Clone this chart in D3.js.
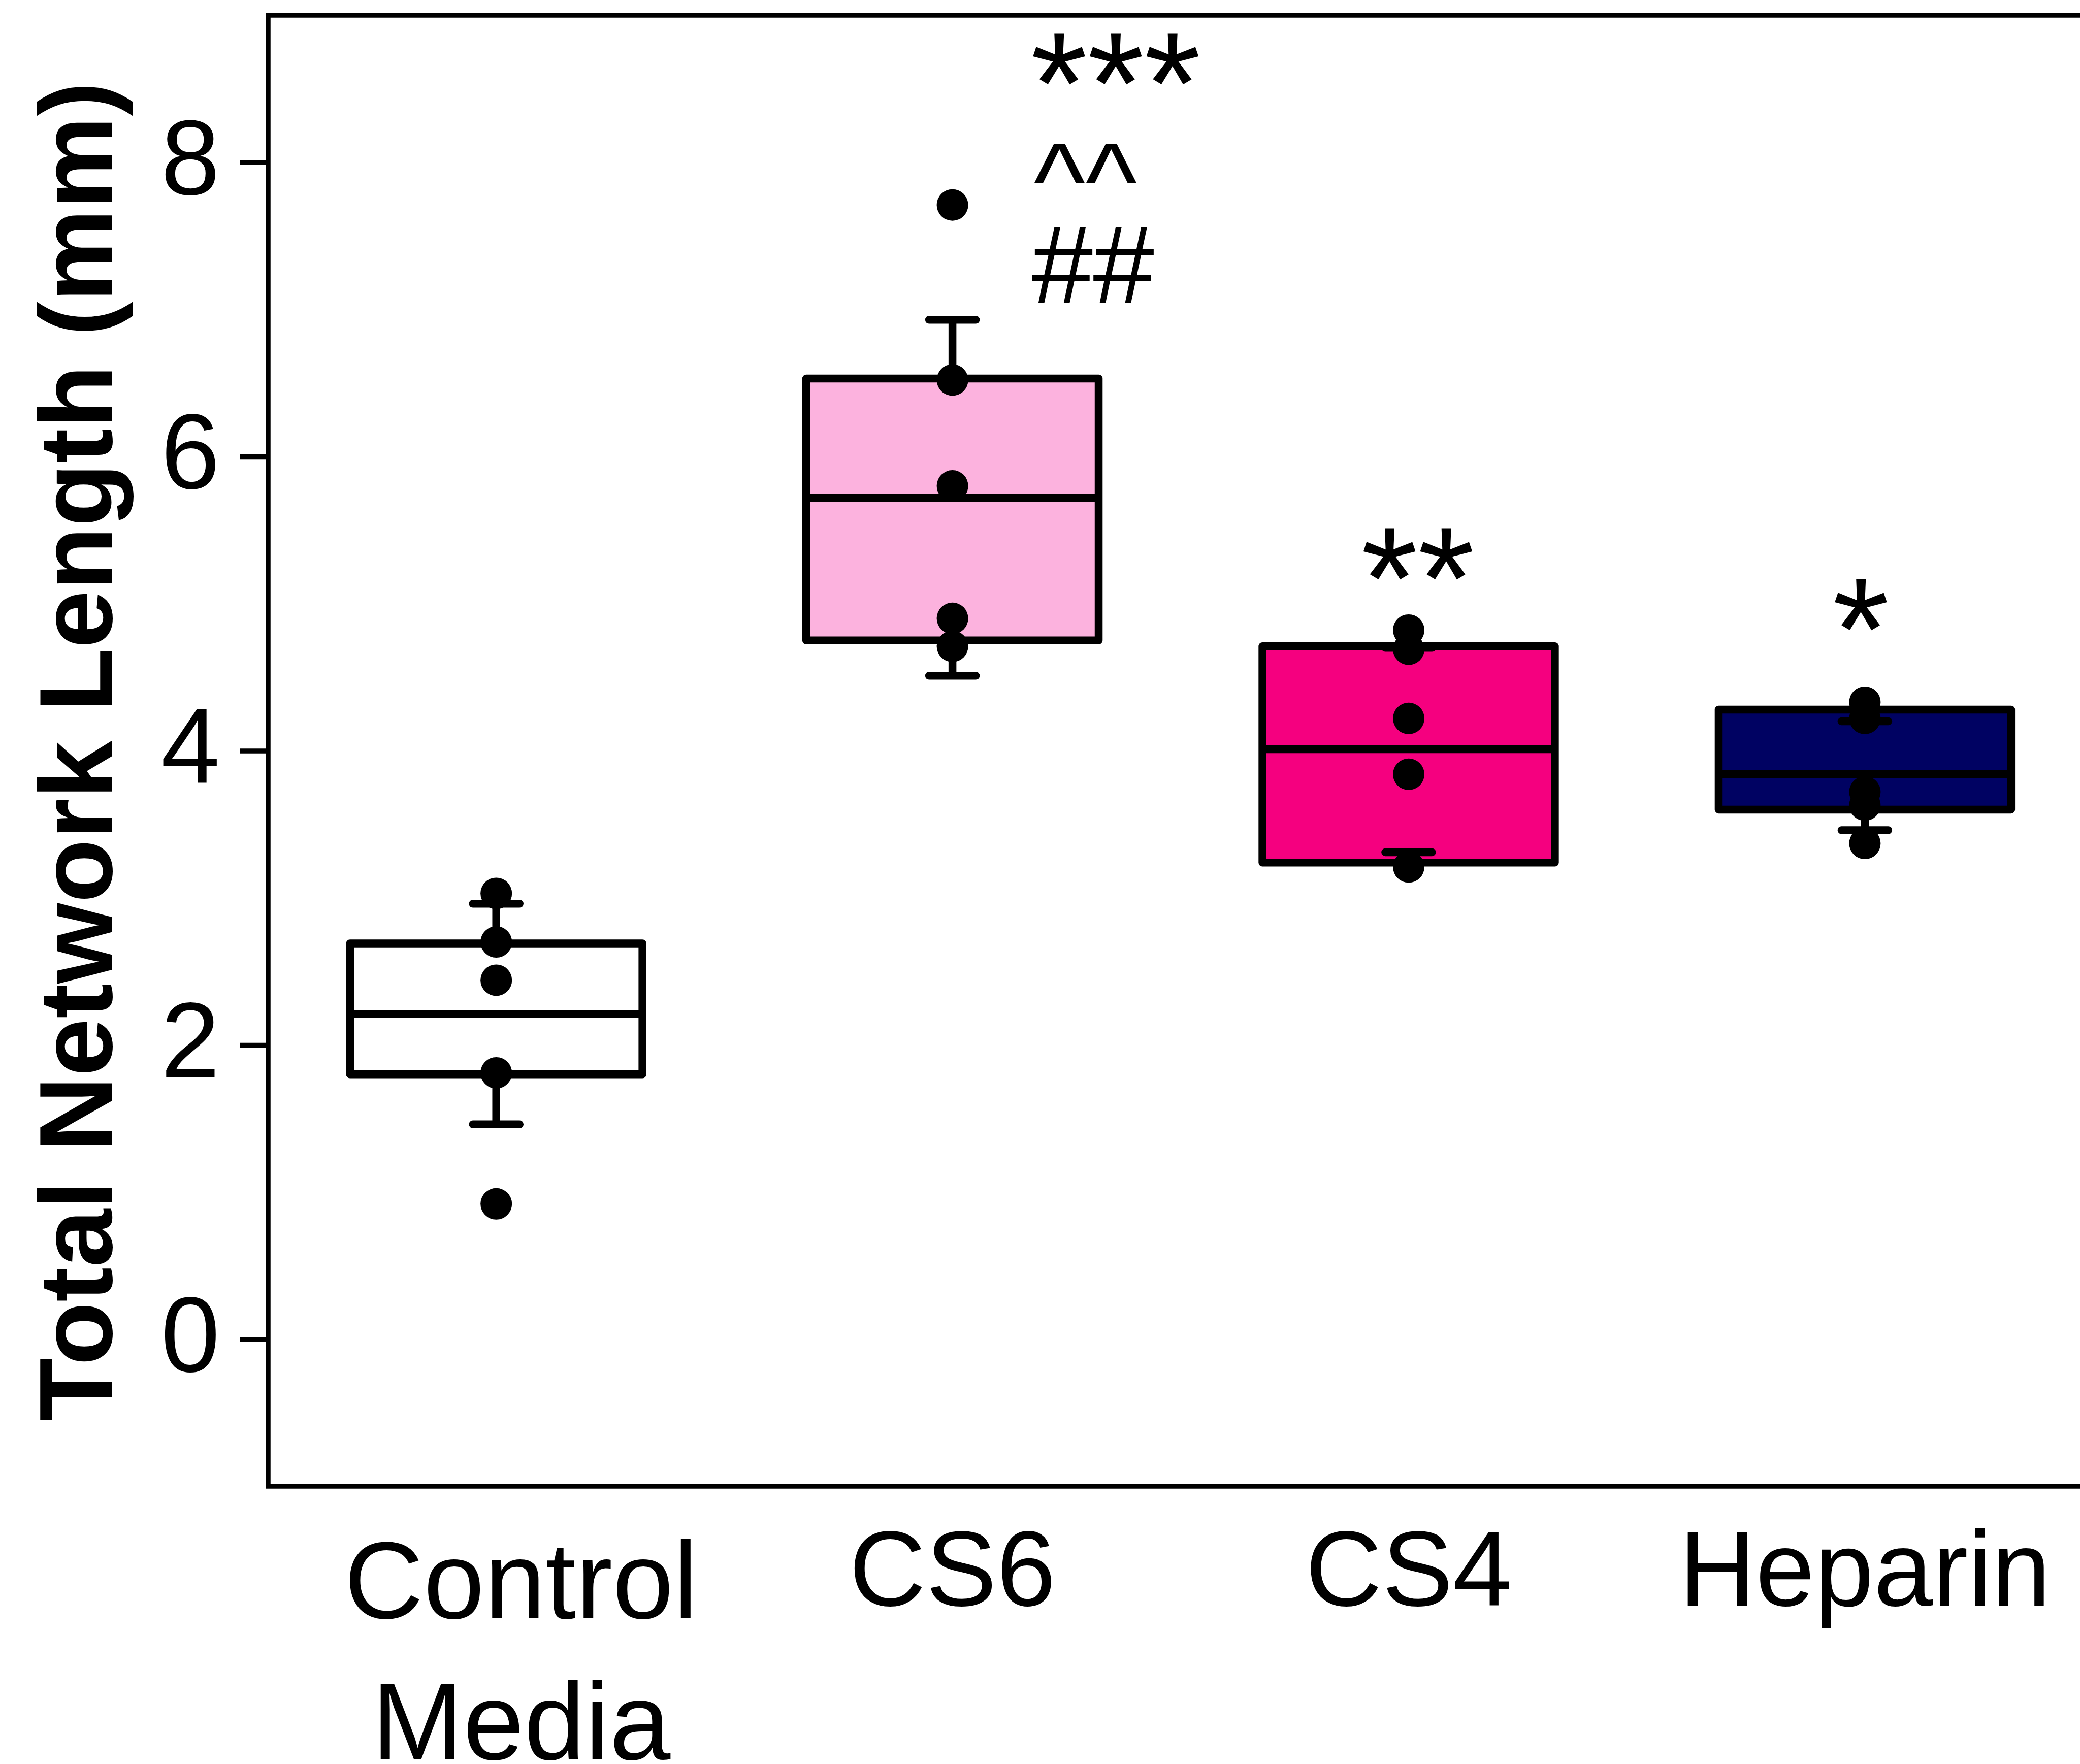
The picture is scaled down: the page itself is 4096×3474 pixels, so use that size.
<!DOCTYPE html>
<html>
<head>
<meta charset="utf-8">
<script src="https://cdn.jsdelivr.net/npm/d3@7/dist/d3.min.js"></script>
<style>
  html, body { margin: 0; padding: 0; background: #ffffff; }
  svg { display: block; }
  text { font-family: "Liberation Sans", Arial, Helvetica, sans-serif; fill: #000; }
</style>
</head>
<body>
<svg id="chart" width="4096" height="3474"></svg>
<script>
// ---------------- data ----------------
const categories = ["Control Media", "CS6", "CS4", "Heparin"];
const categoryLines = [["Control", "Media"], ["CS6"], ["CS4"], ["Heparin"]];

const q1          = [1.80, 4.75, 3.24, 3.60];
const median      = [2.21, 5.72, 4.01, 3.84];
const q3          = [2.69, 6.53, 4.71, 4.28];
const whiskerLow  = [1.46, 4.51, 3.31, 3.46];
const whiskerHigh = [2.96, 6.93, 4.70, 4.20];

const pointsControl = [3.03, 2.70, 2.44, 1.81, 0.92];
const pointsCS6     = [7.71, 6.52, 5.80, 4.90, 4.71];
const pointsCS4     = [4.82, 4.69, 4.22, 3.84, 3.21];
const pointsHeparin = [4.33, 4.22, 3.72, 3.63, 3.37];
const points = [pointsControl, pointsCS6, pointsCS4, pointsHeparin];

const yTicks = [0, 2, 4, 6, 8];
const yLabel = "Total Network Length (mm)";

const sigCS6 = ["***", "^^", "##"];
const sigCS4 = ["**"];
const sigHeparin = ["*"];

// ---------------- drawing ----------------
(function () {
const fills = ["#ffffff", "#fcb2de", "#f5007f", "#000262"];

const svg = d3.select("#chart");
const pl = 528, pr = 4121.6, pt = 30, pb = 2927;

const x = d3.scaleBand()
  .domain(categories)
  .range([pl, pr])
  .paddingInner(0.359)
  .paddingOuter(0.1795);

const y = d3.scaleLinear().domain([-1, 9]).range([pb, pt]);

const boxes = categories.map((c, i) => ({
  cat: c, q1: q1[i], med: median[i], q3: q3[i],
  lo: whiskerLow[i], hi: whiskerHigh[i], fill: fills[i], pts: points[i]
}));

const bw = x.bandwidth();
const capHalf = 46;
const sw = 15.5;

const g = svg.append("g");

g.selectAll("rect.box").data(boxes).enter().append("rect")
  .attr("class", "box")
  .attr("x", d => x(d.cat))
  .attr("width", bw)
  .attr("y", d => y(d.q3))
  .attr("height", d => y(d.q1) - y(d.q3))
  .attr("fill", d => d.fill)
  .attr("stroke", "#000")
  .attr("stroke-width", sw)
  .attr("stroke-linejoin", "round");

g.selectAll("line.med").data(boxes).enter().append("line")
  .attr("x1", d => x(d.cat))
  .attr("x2", d => x(d.cat) + bw)
  .attr("y1", d => y(d.med))
  .attr("y2", d => y(d.med))
  .attr("stroke", "#000").attr("stroke-width", sw);

const cx = d => x(d.cat) + bw / 2;
[["q3", "hi"], ["q1", "lo"]].forEach(([from, to]) => {
  g.selectAll(null).data(boxes).enter().append("line")
    .attr("x1", cx).attr("x2", cx)
    .attr("y1", d => y(d[from])).attr("y2", d => y(d[to]))
    .attr("stroke", "#000").attr("stroke-width", sw);
  g.selectAll(null).data(boxes).enter().append("line")
    .attr("x1", d => cx(d) - capHalf).attr("x2", d => cx(d) + capHalf)
    .attr("y1", d => y(d[to])).attr("y2", d => y(d[to]))
    .attr("stroke", "#000").attr("stroke-width", sw)
    .attr("stroke-linecap", "round");
});

boxes.forEach(b => {
  g.selectAll(null).data(b.pts).enter().append("circle")
    .attr("cx", cx(b))
    .attr("cy", v => y(v))
    .attr("r", 31)
    .attr("fill", "#000");
});

svg.append("rect")
  .attr("x", pl).attr("y", pt)
  .attr("width", pr - pl).attr("height", pb - pt)
  .attr("fill", "none").attr("stroke", "#000").attr("stroke-width", 9.5);

const yAxis = d3.axisLeft(y).tickValues(yTicks).tickSize(56).tickPadding(39);
const ya = svg.append("g").attr("transform", `translate(${pl},0)`).call(yAxis);
ya.select(".domain").remove();
ya.selectAll(".tick line").attr("stroke", "#000").attr("stroke-width", 9.5);
ya.selectAll(".tick text")
  .attr("font-size", 209)
  .attr("dy", "0.30em")
  .attr("fill", "#000")
  .style("font-family", '"Liberation Sans", Arial, sans-serif');

svg.append("text")
  .attr("transform", `translate(219.5,1480) rotate(-90)`)
  .attr("text-anchor", "middle")
  .attr("font-size", 205)
  .attr("font-weight", "bold")
  .text(yLabel);

categories.forEach((c, i) => {
  const lines = categoryLines[i];
  const t = svg.append("text").attr("text-anchor", "middle");
  if (lines.length === 1) {
    t.attr("font-size", 209)
     .attr("x", x(c) + bw / 2)
     .attr("y", pb + 235)
     .text(lines[0]);
  } else {
    lines.forEach((ln, k) => {
      t.append("tspan")
        .attr("x", x(c) + bw / 2 + 49)
        .attr("y", pb + 260 + k * 278)
        .attr("font-size", 216)
        .text(ln);
    });
  }
});

const sigX = x("CS6") + bw / 2 + 158;
svg.append("text").attr("x", sigX - 4).attr("y", 263)
  .attr("font-size", 287).text(sigCS6[0]);
svg.append("text").attr("x", sigX + 2).attr("y", 432)
  .attr("font-size", 217).text(sigCS6[1]);
svg.append("text").attr("x", sigX - 2).attr("y", 596)
  .attr("font-size", 217).text(sigCS6[2]);

svg.append("text").attr("x", x("CS4") + bw / 2 + 18).attr("y", 1238)
  .attr("text-anchor", "middle").attr("font-size", 287).text(sigCS4[0]);
svg.append("text").attr("x", x("Heparin") + bw / 2 - 8).attr("y", 1338)
  .attr("text-anchor", "middle").attr("font-size", 287).text(sigHeparin[0]);
})();
</script>
</body>
</html>
